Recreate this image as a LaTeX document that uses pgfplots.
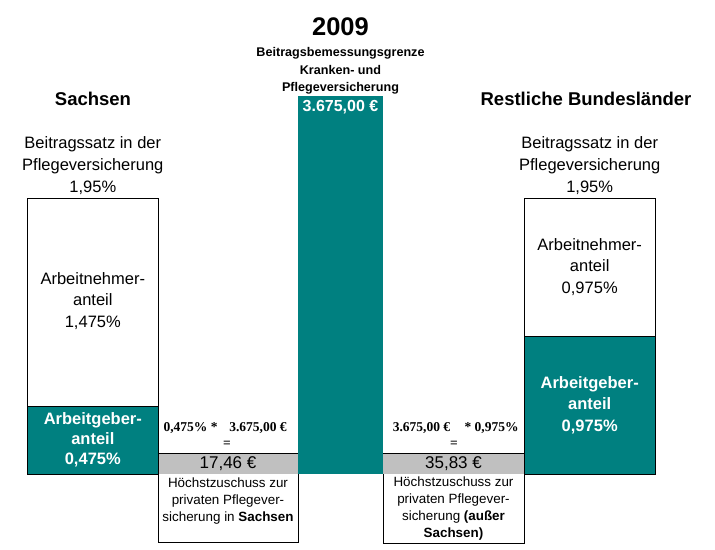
\documentclass[border=0pt]{standalone}
\usepackage{fontspec}
\setmainfont{Liberation Sans}
\newfontfamily\serif{Liberation Serif}
\usepackage{pgfplots}
\usepackage{pgfplotstable}
\pgfplotsset{compat=1.18}
\definecolor{tealc}{RGB}{0,128,128}
\definecolor{greyc}{RGB}{192,192,192}

% y unit of the axis is one pixel: percent and euro are scaled onto it
\def\pct{141.4}
\def\eur{9.722}

\pgfplotstableread{
x total arbeitgeber
92.8 1.95 0.475
589.7 1.95 0.975
}\beitrag
\pgfplotstableread{
x eur
340.5 3675
}\grenze

\newcommand\fs[2]{\fontsize{#1}{#2}\selectfont}

\begin{document}
\begin{tikzpicture}
\begin{axis}[
  scale only axis, width=715pt, height=549pt,
  xmin=0, xmax=715, ymin=-75, ymax=474,
  hide axis, clip=false,
]
\path (axis cs:0,-75) rectangle (axis cs:715,474);

% Hoechstzuschuss boxes
\draw[line width=0.8pt, fill=white] (axis cs:158.3,-68) rectangle (axis cs:298.3,20.7);
\fill[greyc] (axis cs:158.7,0) rectangle (axis cs:297.9,20.3);
\draw[line width=0.8pt, fill=white] (axis cs:383,-69) rectangle (axis cs:524.5,20.7);
\fill[greyc] (axis cs:383.4,0) rectangle (axis cs:524.1,20.3);

% Beitragssatz bars
\addplot[ybar, bar shift=0pt, bar width=131, fill=white, draw=black, line width=0.8pt]
  table[x=x, y expr=\thisrow{total}*\pct] {\beitrag};
\addplot[ybar, bar shift=0pt, bar width=131, fill=tealc, draw=black, line width=0.8pt]
  table[x=x, y expr=\thisrow{arbeitgeber}*\pct] {\beitrag};
% Beitragsbemessungsgrenze
\addplot[ybar, bar shift=0pt, bar width=84.4, fill=tealc, draw=none]
  table[x=x, y expr=\thisrow{eur}/\eur] {\grenze};

\node[font=\bfseries\fs{25.5}{30}] at (axis cs:340.5,447) {2009};
\node[font=\bfseries\fs{12.6}{17.5}, align=center] at (axis cs:340.5,403)
  {Beitragsbemessungsgrenze\\Kranken- und\\Pflegeversicherung};
\node[font=\bfseries\fs{16}{19}, text=white] at (axis cs:340.5,367) {3.675,00 €};

\node[font=\bfseries\fs{18.5}{22}] at (axis cs:93,375) {Sachsen};
\node[font=\bfseries\fs{18.5}{22}] at (axis cs:586,375) {Restliche Bundesländer};
\node[font=\fs{16.5}{22}, align=center] at (axis cs:92.8,308)
  {Beitragssatz in der\\Pflegeversicherung\\1,95\%};
\node[font=\fs{16.5}{22}, align=center] at (axis cs:589.7,308)
  {Beitragssatz in der\\Pflegeversicherung\\1,95\%};

\node[font=\fs{16.5}{21.5}, align=center] at (axis cs:92.8,173)
  {Arbeitnehmer-\\anteil\\1,475\%};
\node[font=\bfseries\fs{16.5}{20}, text=white, align=center] at (axis cs:92.8,34)
  {Arbeitgeber-\\anteil\\0,475\%};
\node[font=\fs{16.5}{21.5}, align=center] at (axis cs:589.7,207)
  {Arbeitnehmer-\\anteil\\0,975\%};
\node[font=\bfseries\fs{16.5}{21.5}, text=white, align=center] at (axis cs:589.7,69)
  {Arbeitgeber-\\anteil\\0,975\%};

\node[font=\serif\bfseries\fs{13.5}{16}] at (axis cs:190.5,46) {0,475\% *};
\node[font=\serif\bfseries\fs{13.5}{16}] at (axis cs:258,46) {3.675,00 €};
\node[font=\serif\bfseries\fs{13.5}{16}] at (axis cs:227,30) {=};
\node[font=\serif\bfseries\fs{13.5}{16}] at (axis cs:421.5,46) {3.675,00 €};
\node[font=\serif\bfseries\fs{13.5}{16}] at (axis cs:491.5,46) {* 0,975\%};
\node[font=\serif\bfseries\fs{13.5}{16}] at (axis cs:454,30) {=};

\node[font=\fs{17}{20}] at (axis cs:228,10) {17,46 €};
\node[font=\fs{17}{20}] at (axis cs:453.5,10) {35,83 €};
\node[font=\fs{13.4}{17}, align=center] at (axis cs:228,-27)
  {Höchstzuschuss zur\\privaten Pflegever-\\sicherung in \textbf{Sachsen}};
\node[font=\fs{13.4}{17}, align=center] at (axis cs:453.5,-35)
  {Höchstzuschuss zur\\privaten Pflegever-\\sicherung \textbf{(außer}\\\textbf{Sachsen)}};
\end{axis}
\end{tikzpicture}
\end{document}
